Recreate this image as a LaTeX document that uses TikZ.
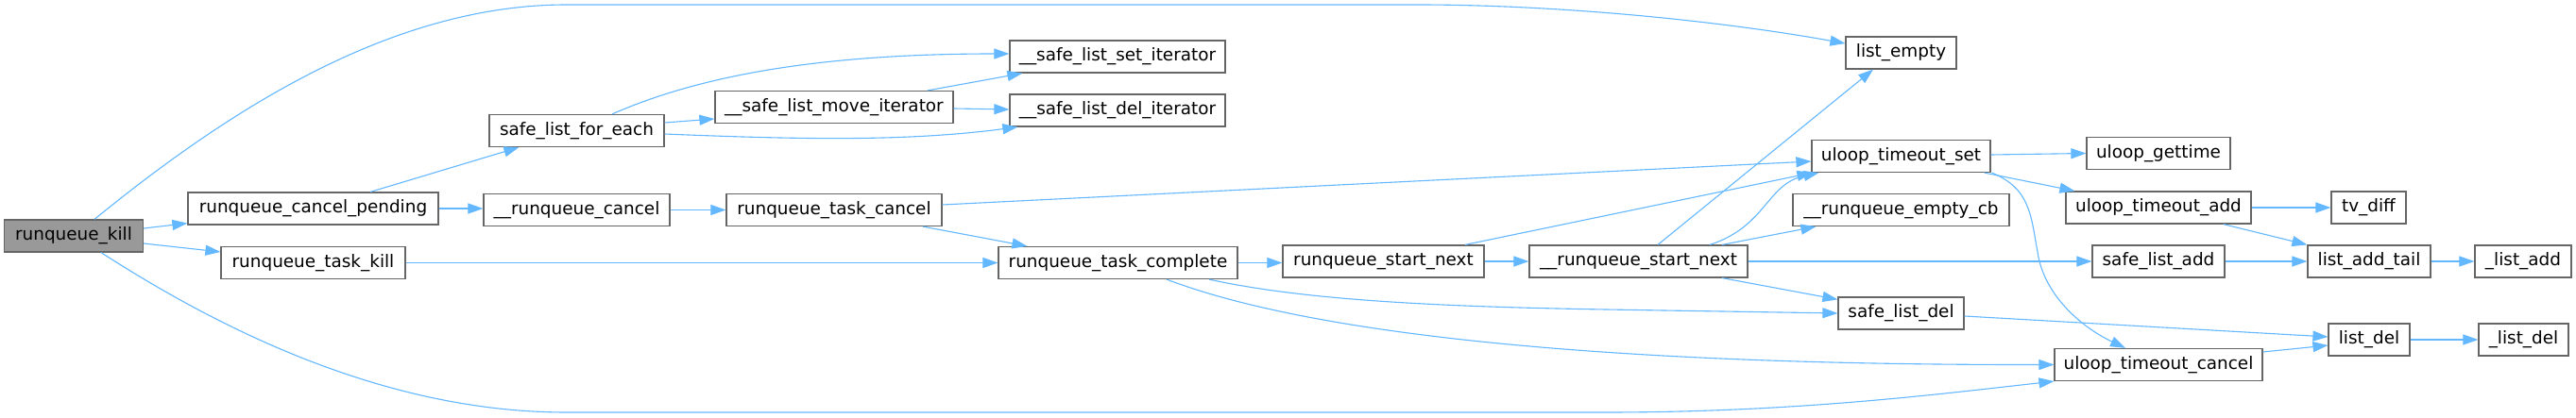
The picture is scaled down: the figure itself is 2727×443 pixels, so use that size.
\documentclass[tikz,border=0pt]{standalone}
\usepackage{fontspec}
\setmainfont{DejaVu Sans}
\usetikzlibrary{arrows.meta,calc}
\definecolor{edgecol}{HTML}{63B8FF}
\definecolor{nodeborder}{HTML}{666666}
\definecolor{rootfill}{HTML}{999999}
\begin{document}
\begin{tikzpicture}[x=0.5pt,y=-0.5pt,
  fn/.style={draw=nodeborder, fill=white, line width=0.6pt, minimum height=17pt, inner sep=0pt, font=\fontsize{9.2pt}{11pt}\selectfont},
  rootfn/.style={fn, fill=rootfill},
  edge/.style={draw=edgecol, line width=0.55pt, -{Triangle[length=8pt,width=5.5pt]}, fill=none}]
\useasboundingbox[fill=white] (0,0) rectangle (2727,443);

% nodes
\node[rootfn, minimum width=73.5pt] (kill) at (78,250) {runqueue\_kill};
\node[fn, minimum width=132.5pt] (cp) at (331.5,221) {runqueue\_cancel\_pending};
\node[fn, minimum width=97.5pt] (tk) at (331.5,278.5) {runqueue\_task\_kill};
\node[fn, minimum width=92.5pt] (fe) at (610.5,138.5) {safe\_list\_for\_each};
\node[fn, minimum width=98.5pt] (rc) at (610.5,222.5) {\_\_runqueue\_cancel};
\node[fn, minimum width=126pt] (mi) at (883,113.5) {\_\_safe\_list\_move\_iterator};
\node[fn, minimum width=114pt] (tc) at (883,222.5) {runqueue\_task\_cancel};
\node[fn, minimum width=114pt] (si) at (1183,60) {\_\_safe\_list\_set\_iterator};
\node[fn, minimum width=114pt] (di) at (1183,117) {\_\_safe\_list\_del\_iterator};
\node[fn, minimum width=126.5pt] (tcomp) at (1183.5,278.5) {runqueue\_task\_complete};
\node[fn, minimum width=106.5pt] (sn) at (1464.5,277) {runqueue\_start\_next};
\node[fn, minimum width=115.5pt] (rsn) at (1734.5,277) {\_\_runqueue\_start\_next};
\node[fn, minimum width=58.5pt] (le) at (2012.5,56) {list\_empty};
\node[fn, minimum width=94.5pt] (uts) at (2012.5,165.5) {uloop\_timeout\_set};
\node[fn, minimum width=114.5pt] (ecb) at (2012.5,222.5) {\_\_runqueue\_empty\_cb};
\node[fn, minimum width=66.5pt] (ssd) at (2012.5,332) {safe\_list\_del};
\node[fn, minimum width=76pt] (ug) at (2285,162.5) {uloop\_gettime};
\node[fn, minimum width=98pt] (uta) at (2285,220) {uloop\_timeout\_add};
\node[fn, minimum width=70pt] (sla) at (2285,277) {safe\_list\_add};
\node[fn, minimum width=110pt] (utc) at (2285,386.5) {uloop\_timeout\_cancel};
\node[fn, minimum width=39.5pt] (tv) at (2507.5,220) {tv\_diff};
\node[fn, minimum width=65pt] (lat) at (2508,277) {list\_add\_tail};
\node[fn, minimum width=43pt] (ld) at (2508,360) {list\_del};
\node[fn, minimum width=51pt] (la) at (2671,277) {\_list\_add};
\node[fn, minimum width=47.5pt] (lld) at (2671.5,360) {\_list\_del};

% edges from runqueue_kill
\draw[edge] ($(kill.north)+(22,0)$) .. controls (250,110) and (420,5) .. (600,5) -- (1500,5) .. controls (1650,5) and (1820,22) .. ($(le.west)+(0,-10)$);
\draw[edge] ($(kill.east)+(0,-8)$) -- ($(cp.south west)+(0,-2)$);
\draw[edge] ($(kill.east)+(0,8)$) -- ($(tk.west)+(0,-11.5)$);
\draw[edge] ($(kill.south)+(29,0)$) .. controls (250,360) and (420,437) .. (600,437) -- (1700,437) .. controls (1900,437) and (2050,418) .. (utc.south west);

% runqueue_cancel_pending
\draw[edge] ($(cp.north)+(60.5,0)$) -- ($(fe.south west)+(32,0)$);
\draw[edge] (cp.east) -- (cp.east -| rc.west);
\draw[edge] (rc.east) -- (tc.west);

% runqueue_task_kill
\draw[edge] (tk.east) -- (tcomp.west);

% safe_list_for_each
\draw[edge] ($(fe.east)+(0,-8.5)$) -- ($(mi.west)+(0,12.5)$);
\draw[edge] ($(fe.north)+(37.5,0)$) .. controls (730,85) and (850,57) .. ($(si.west)+(0,-3)$);
\draw[edge] ($(fe.east)+(0,3.5)$) .. controls (850,148) and (960,150) .. ($(di.south west)+(9,0)$);

% __safe_list_move_iterator
\draw[edge] ($(mi.north)+(99,0)$) -- ($(si.south west)+(14,0)$);
\draw[edge] ($(mi.east)+(0,1.5)$) -- ($(di.west)+(0,-1)$);

% runqueue_task_cancel
\draw[edge] ($(tc.east)+(0,-5.5)$) -- ($(uts.west)+(0,5.5)$);
\draw[edge] ($(tc.south)+(94,0)$) -- ($(tcomp.north west)+(31,0)$);

% runqueue_task_complete
\draw[edge] (tcomp.east) -- (tcomp.east -| sn.west);
\draw[edge] ($(tcomp.south)+(96.5,0)$) .. controls (1380,318) and (1520,325) .. (1700,328) -- (ssd.west);
\draw[edge] ($(tcomp.south)+(51.5,0)$) .. controls (1390,355) and (1700,387) .. (utc.west);

% runqueue_start_next
\draw[edge] (sn.east) -- (rsn.west);
\draw[edge] ($(sn.north)+(86.5,0)$) -- ($(uts.south west)+(1,0)$);

% __runqueue_start_next
\draw[edge] ($(rsn.north)+(20.5,0)$) -- ($(le.south)+(-29.5,0)$);
\draw[edge] ($(rsn.north)+(75.5,0)$) .. controls (1870,240) and (1870,195) .. ($(uts.south west)+(8,0)$);
\draw[edge] ($(rsn.north)+(88.5,0)$) -- ($(ecb.south west)+(25,0)$);
\draw[edge] (rsn.east) -- (sla.west);
\draw[edge] ($(rsn.south)+(88.5,0)$) -- ($(ssd.north west)+(0,3)$);

% uloop_timeout_set
\draw[edge] ($(uts.east)+(0,-1.5)$) -- (ug.west);
\draw[edge] ($(uts.south east)+(-7,0)$) -- ($(uta.north west)+(10,0)$);
\draw[edge] ($(uts.south east)+(1,0)$) .. controls (2150,200) and (2150,230) .. (2157,267) .. controls (2163,310) and (2200,345) .. ($(utc.north)+(-35,0)$);

% uloop_timeout_add
\draw[edge] (uta.east) -- (tv.west);
\draw[edge] ($(uta.south east)+(-30,0)$) -- (lat.north west);

% safe_list_add, list_add_tail
\draw[edge] (sla.east) -- (lat.west);
\draw[edge] (lat.east) -- (la.west);

% safe_list_del, uloop_timeout_cancel, list_del
\draw[edge] ($(ssd.east)+(0,3)$) -- ($(ld.west)+(0,-3)$);
\draw[edge] ($(utc.east)+(0,-13.5)$) -- ($(ld.west)+(0,6)$);
\draw[edge] (ld.east) -- (lld.west);
\end{tikzpicture}
\end{document}
